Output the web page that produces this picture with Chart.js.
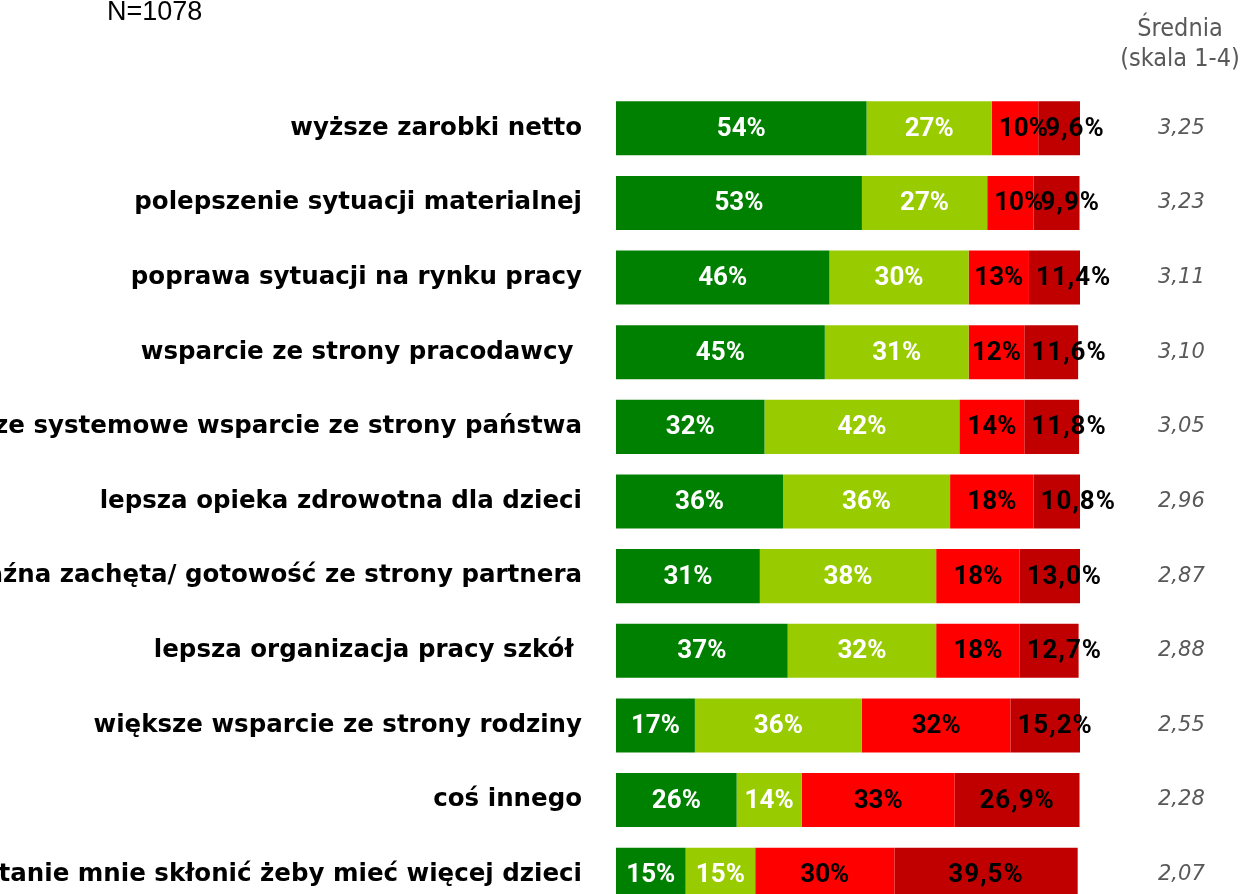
<!DOCTYPE html>
<html>
<head>
<meta charset="utf-8">
<script src="https://cdn.jsdelivr.net/npm/chart.js@4"></script>
<style>
  html, body { margin: 0; padding: 0; background: #fff; overflow: hidden; }
  body { width: 1244px; height: 894px; position: relative; }
  #wrap { position: absolute; left: 0; top: 0; width: 1244px; height: 912px; }
  .note { position: absolute; color: #000; font-family: "Liberation Sans Narrow", "Arial Narrow", "Liberation Sans", sans-serif; font-size: 27px; left: 107px; top: -4px; }
  .head { position: absolute; color: #595959; font-family: "DejaVu Sans Condensed", "DejaVu Sans", sans-serif; font-size: 25px; text-align: center; line-height: 30px; left: 1110px; top: 13px; width: 140px; }
</style>
</head>
<body>
<div id="wrap"><canvas id="chart" width="1244" height="912"></canvas></div>
<div class="note">N=1078</div>
<div class="head">Średnia<br>(skala 1-4)</div>
<script>
"use strict";

var categories = [
    "wyższe zarobki netto",
    "polepszenie sytuacji materialnej",
    "poprawa sytuacji na rynku pracy",
    "wsparcie ze strony pracodawcy ",
    "większe systemowe wsparcie ze strony państwa",
    "lepsza opieka zdrowotna dla dzieci",
    "wyraźna zachęta/ gotowość ze strony partnera",
    "lepsza organizacja pracy szkół ",
    "większe wsparcie ze strony rodziny",
    "coś innego",
    "nic nie jest w stanie mnie skłonić żeby mieć więcej dzieci"
];
var seriesNames = ["zdecydowanie tak", "raczej tak", "raczej nie", "zdecydowanie nie"];
var definitelyYes = [54, 53, 46, 45, 32, 36, 31, 37, 17, 26, 15];
var ratherYes = [27, 27, 30, 31, 42, 36, 38, 32, 36, 14, 15];
var ratherNo = [10, 10, 13, 12, 14, 18, 18, 18, 32, 33, 30];
var definitelyNo = [9.6, 9.9, 11.4, 11.6, 11.8, 10.8, 13.0, 12.7, 15.2, 26.9, 39.5];
var averages = ["3,25", "3,23", "3,11", "3,10", "3,05", "2,96", "2,87", "2,88", "2,55", "2,28", "2,07"];

var FONT = '"DejaVu Sans", sans-serif';
var colors = ["#008000", "#99cc00", "#ff0000", "#c00000"];
var labelColors = ["#ffffff", "#ffffff", "#000000", "#000000"];

function makeSet(i, values) {
    return {
        label: seriesNames[i],
        data: values,
        backgroundColor: colors[i],
        borderWidth: 0,
        barPercentage: 0.724,
        categoryPercentage: 1,
        clip: 0
    };
}

// category axes add label padding to the chart area, drop it
function fixAxis(width) {
    return function(scale) {
        scale.width = width;
        scale.paddingTop = 0;
        scale.paddingBottom = 0;
    };
}

/* draws the percent labels in the middle of each segment,
   a label wider than its segment starts just after the segment's left edge */
var segmentLabels = {
    id: "segmentLabels",
    afterDatasetsDraw: function(chart) {
        var ctx = chart.ctx;
        ctx.save();
        ctx.font = "bold 26px Roboto, sans-serif";
        ctx.textBaseline = "middle";
        ctx.textAlign = "left";
        chart.data.datasets.forEach(function(ds, i) {
            var meta = chart.getDatasetMeta(i);
            ctx.fillStyle = labelColors[i];
            ctx.letterSpacing = i == 3 ? "1px" : "0px";
            meta.data.forEach(function(bar, j) {
                var v = ds.data[j];
                var txt = i == 3 ? v.toFixed(1).replace(".", ",") + "%" : Math.round(v) + "%";
                var w = ctx.measureText(txt).width;
                var x = (bar.x + bar.base) / 2 - w / 2;
                if (w > bar.x - bar.base) x = bar.base + 7;
                ctx.fillText(txt, x, bar.y + 1);
            });
        });
        ctx.restore();
    }
};

new Chart(document.getElementById("chart"), {
    type: "bar",
    data: {
        labels: categories,
        datasets: [
            makeSet(0, definitelyYes),
            makeSet(1, ratherYes),
            makeSet(2, ratherNo),
            makeSet(3, definitelyNo)
        ]
    },
    options: {
        indexAxis: "y",
        responsive: false,
        animation: false,
        devicePixelRatio: 1,
        layout: { padding: { top: 91, bottom: 0, left: 0, right: 0 } },
        scales: {
            x: {
                stacked: true,
                min: 0,
                max: 100,
                display: false
            },
            y: {
                stacked: true,
                position: "left",
                grid: { display: false, drawTicks: false },
                border: { display: false },
                ticks: {
                    color: "#000",
                    padding: 34,
                    autoSkip: false,
                    font: { family: FONT, size: 24.5, weight: "bold" }
                },
                afterFit: fixAxis(616)
            },
            y2: {
                type: "category",
                labels: averages,
                position: "right",
                offset: true,
                grid: { display: false, drawTicks: false },
                border: { display: false },
                ticks: {
                    color: "#595959",
                    padding: 78,
                    autoSkip: false,
                    font: { family: FONT, size: 21, style: "italic" }
                },
                afterFit: fixAxis(164)
            }
        },
        plugins: {
            legend: { display: false },
            tooltip: { enabled: false },
            title: { display: false }
        }
    },
    plugins: [segmentLabels]
});
</script>
</body>
</html>
